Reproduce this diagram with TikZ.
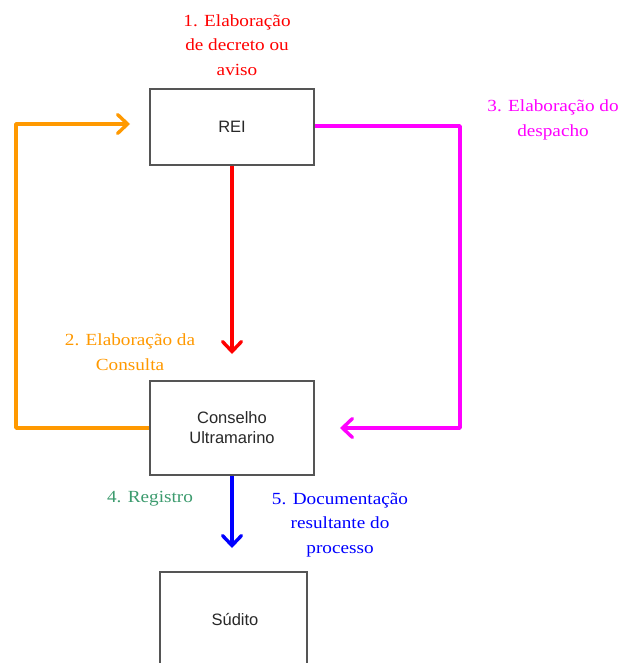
\documentclass[tikz,border=0pt]{standalone}
\usepackage{fontspec}
\setmainfont{Liberation Serif}[FakeStretch=1.13]
\setsansfont{Liberation Sans}
\usetikzlibrary{arrows.meta}
\definecolor{cRed}{RGB}{255,0,0}
\definecolor{cOrange}{RGB}{255,153,0}
\definecolor{cMagenta}{RGB}{255,0,255}
\definecolor{cGreen}{RGB}{60,155,110}
\definecolor{cBlue}{RGB}{0,0,255}
\definecolor{cBorder}{RGB}{85,85,85}
\definecolor{cText}{RGB}{40,40,40}
\begin{document}
\begin{tikzpicture}[x=1pt,y=-1pt,
  boxfont/.style={font=\sffamily\fontsize{16.5}{20}\selectfont,text=cText},
  box/.style={draw=cBorder,line width=1.5pt,fill=white,boxfont,align=center,inner sep=0pt},
  flow/.style={line width=3.4pt,line join=round,-{Straight Barb[length=10pt,width=19pt,line width=3.4pt,line cap=round]}},
  lbl/.style={font=\fontsize{17}{24.5}\selectfont,align=center,inner sep=0pt}]
\useasboundingbox (0,0) rectangle (623,663);
\fill[white] (0,0) rectangle (623,663);

% boxes
\node[box,minimum width=164pt,minimum height=76pt] (rei) at (232,127) {REI};
\node[box,minimum width=164pt,minimum height=94pt] (cons) at (232,428) {Conselho\\Ultramarino};
\node[box,minimum width=147pt,minimum height=110pt] (sud) at (233.5,627) {};
\node[boxfont] (sudt) at (235,619) {Súdito};

% connector end points
\coordinate (redEnd) at (232,354);
\coordinate (blueEnd) at (232,548);
\coordinate (orL) at (16,428);
\coordinate (orT) at (16,124);
\coordinate (orEnd) at (130,124);
\coordinate (mgR) at (460,126);
\coordinate (mgB) at (460,428);
\coordinate (mgEnd) at (340,428);

% connectors
\draw[flow,cRed] (rei.south) -- (redEnd);
\draw[flow,cBlue] (cons.south) -- (blueEnd);
\draw[flow,cOrange] (cons.west) -- (orL) -- (orT) -- (orEnd);
\draw[flow,cMagenta] (rei.east |- mgR) -- (mgR) -- (mgB) -- (mgEnd);

% labels
\node[lbl,text=cRed] (l1) at (237,45) {1. Elaboração\\de decreto ou\\aviso};
\node[lbl,text=cOrange] (l2) at (130,352) {2. Elaboração da\\Consulta};
\node[lbl,text=cMagenta] (l3) at (553,120) {3. Elaboração do\\despacho};
\node[lbl,text=cGreen] (l4) at (150,499) {4. Registro};
\node[lbl,text=cBlue] (l5) at (340,525) {5. Documentação\\resultante do\\processo};
\end{tikzpicture}
\end{document}
